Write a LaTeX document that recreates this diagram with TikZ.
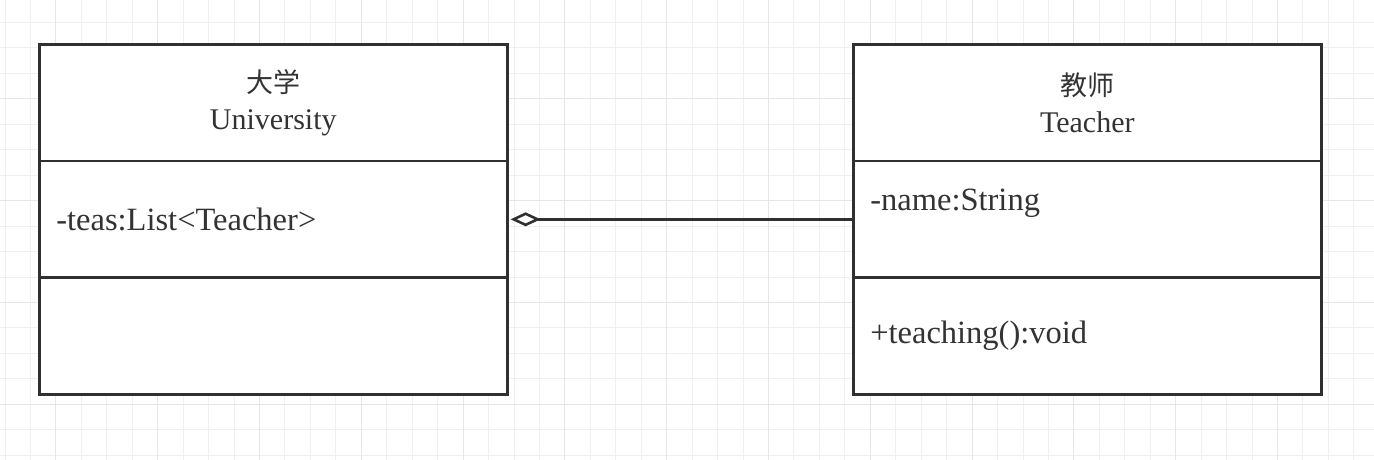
\documentclass[tikz,border=0pt]{standalone}
\usepackage{fontspec}
\setmainfont{Liberation Serif}
\newfontfamily\cjk{Noto Sans CJK SC}
\usepackage{xcolor}
\usepackage{tikz}
\usetikzlibrary{matrix,arrows.meta}
\definecolor{umlline}{HTML}{303030}
\definecolor{umltext}{HTML}{333333}
\definecolor{gridminor}{HTML}{F0F0F0}
\definecolor{gridmajor}{HTML}{E6E6E6}

\begin{document}
\begin{tikzpicture}[x=1pt,y=-1pt,line width=2.6pt,
		umlclass/.style={matrix of nodes, nodes in empty cells, anchor=north west, inner sep=0pt,
			nodes={draw=umlline, fill=white, text=umltext, minimum width=468pt, minimum height=116.67pt,
				text width=434pt, inner xsep=17pt, align=left, font=\fontsize{32.5}{37}\selectfont},
			row sep=-\pgflinewidth},
		classname/.style={align=center, font=\fontsize{30}{37}\selectfont},
		attrtop/.style={text height=22pt, text depth=40pt},
		aggregation/.style={draw=umlline, {Diamond[open,length=30pt,width=14pt,line width=2.6pt]}-, shorten <=2pt}]
	\useasboundingbox (0,0) rectangle (1374,460);
	% grid
	\foreach \i in {0,...,53}
		\draw[gridminor, line width=1pt] (5+25.45*\i,0) -- (5+25.45*\i,460);
	\foreach \i in {0,...,17}
		\draw[gridminor, line width=1pt] (0,22.5+25.45*\i) -- (1374,22.5+25.45*\i);
	\foreach \i in {2,6,...,50}
		\draw[gridmajor, line width=1pt] (5+25.45*\i,0) -- (5+25.45*\i,460);
	\foreach \i in {3,7,...,15}
		\draw[gridmajor, line width=1pt] (0,22.5+25.45*\i) -- (1374,22.5+25.45*\i);
	% classes
	\matrix (uni) [umlclass] at (36.7,41.7) {
		|[classname]| {{\cjk\fontsize{27}{37}\selectfont 大学}\\University}\\
		-teas:List<Teacher>\\
		\\
	};
	\matrix (tea) [umlclass] at (850.7,41.7) {
		|[classname]| {{\cjk\fontsize{27}{37}\selectfont 教师}\\Teacher}\\
		|[attrtop]| -name:String\\
		+teaching():void\\
	};
	\draw[aggregation] (uni-2-1.east) -- (tea-2-1.west);
\end{tikzpicture}
\end{document}
